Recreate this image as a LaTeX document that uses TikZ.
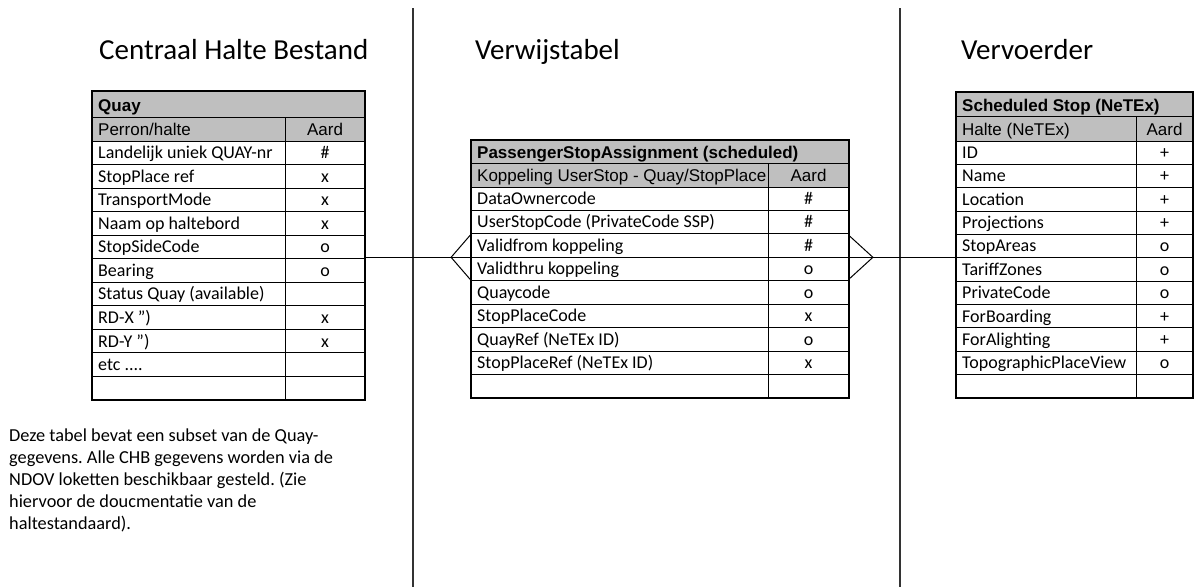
\documentclass[tikz,border=0pt]{standalone}
\usepackage{fontspec}
\setmainfont{Carlito}
\newfontfamily\arialfont{Liberation Sans}
\usetikzlibrary{calc}
\definecolor{hdrgray}{RGB}{191,191,191}
\newcommand{\myetcrow}{etc ....}
\newcommand{\mydq}{\char34}
\frenchspacing
\begin{document}
\begin{tikzpicture}[x=1pt,y=-1pt,
  frame/.style={draw, line width=1.8pt, inner sep=0pt},
  gridline/.style={line width=0.9pt},
  rowtxt/.style={inner sep=0pt, anchor=base west, font=\fontsize{18}{20}\selectfont},
  aardtxt/.style={inner sep=0pt, anchor=base, font=\fontsize{18}{20}\selectfont},
  hdrtxt/.style={inner sep=0pt, anchor=base west, font=\arialfont\bfseries\fontsize{17}{19}\selectfont},
  subtxt/.style={inner sep=0pt, anchor=base west, font=\arialfont\fontsize{17}{19}\selectfont},
  titletxt/.style={inner sep=0pt, anchor=base west, font=\fontsize{29}{32}\selectfont},
  notetxt/.style={inner sep=0pt, anchor=base west, align=left, font=\fontsize{18.3}{22}\selectfont},
  conn/.style={line width=1pt},
  sepline/.style={line width=1.3pt, draw=black!80},
]
\useasboundingbox (0,0) rectangle (1196,587);

% separators
\coordinate (s1t) at (413,8); \coordinate (s1b) at (413,587);
\coordinate (s2t) at (900,8); \coordinate (s2b) at (900,587);
\draw[sepline] (s1t) -- (s1b);
\draw[sepline] (s2t) -- (s2b);

% titles
\node[titletxt] (t1) at (99,59) {Centraal Halte Bestand};
\node[titletxt] (t2) at (475,59) {Verwijstabel};
\node[titletxt] (t3) at (961,59) {Vervoerder};

% ---------- Quay table ----------
\fill[hdrgray] (92,91) rectangle (365,141);
\foreach \y in {117,141} \draw[gridline] (92,\y) -- (365,\y);
\foreach \i in {1,...,10} \draw[gridline] (92,{141+23.545*\i}) -- (365,{141+23.545*\i});
\draw[gridline] (285,117) -- (285,400);
\node[frame, minimum width=273pt, minimum height=309pt] (quay) at (228.5,245.5) {};
\node[hdrtxt] (quay-h) at (98,111) {Quay};
\node[subtxt] (quay-s) at (98,135) {Perron/halte};
\node[subtxt, anchor=base] (quay-sa) at (325,135) {Aard};
\foreach \t/\a [count=\i] in {Landelijk uniek QUAY-nr/\#, StopPlace ref/x, TransportMode/x, Naam op haltebord/x, StopSideCode/o, Bearing/o, Status Quay (available)/{}, RD-X \mydq)/x, RD-Y \mydq)/x, \myetcrow/{}} {
  \node[rowtxt] (quay-r\i) at (98,{141+23.545*\i-5.9}) {\t};
  \node[aardtxt] (quay-a\i) at (325,{141+23.545*\i-5.9}) {\a};
}

% ---------- PassengerStopAssignment table ----------
\fill[hdrgray] (471,140) rectangle (849,187);
\foreach \y in {163,187} \draw[gridline] (471,\y) -- (849,\y);
\foreach \i in {1,...,8} \draw[gridline] (471,{187+23.444*\i}) -- (849,{187+23.444*\i});
\draw[gridline] (768,163) -- (768,398);
\node[frame, minimum width=378pt, minimum height=258pt] (psa) at (660,269) {};
\node[hdrtxt] (psa-h) at (477,158) {PassengerStopAssignment (scheduled)};
\begin{scope}
  \clip (471,163) rectangle (767,187);
  \node[subtxt] (psa-s) at (477,181) {Koppeling UserStop - Quay/StopPlace};
\end{scope}
\node[subtxt, anchor=base] (psa-sa) at (808.5,181) {Aard};
\foreach \t/\a [count=\i] in {DataOwnercode/\#, UserStopCode (PrivateCode SSP)/\#, Validfrom koppeling/\#, Validthru koppeling/o, Quaycode/o, StopPlaceCode/x, QuayRef (NeTEx ID)/o, StopPlaceRef (NeTEx ID)/x} {
  \node[rowtxt] (psa-r\i) at (477,{187+23.444*\i-5.9}) {\t};
  \node[aardtxt] (psa-a\i) at (808.5,{187+23.444*\i-5.9}) {\a};
}

% ---------- Scheduled Stop table ----------
\fill[hdrgray] (956,92) rectangle (1193,141);
\foreach \y in {116,141} \draw[gridline] (956,\y) -- (1193,\y);
\foreach \i in {1,...,10} \draw[gridline] (956,{141+23.364*\i}) -- (1193,{141+23.364*\i});
\draw[gridline] (1136,116) -- (1136,398);
\node[frame, minimum width=237pt, minimum height=306pt] (sstop) at (1074.5,245) {};
\node[hdrtxt] (sstop-h) at (962,111) {Scheduled Stop (NeTEx)};
\node[subtxt] (sstop-s) at (962,135) {Halte (NeTEx)};
\node[subtxt, anchor=base] (sstop-sa) at (1164.5,135) {Aard};
\foreach \t/\a [count=\i] in {ID/+, Name/+, Location/+, Projections/+, StopAreas/o, TariffZones/o, PrivateCode/o, ForBoarding/+, ForAlighting/+, TopographicPlaceView/o} {
  \node[rowtxt] (sstop-r\i) at (962,{141+23.364*\i-5.9}) {\t};
  \node[aardtxt] (sstop-a\i) at (1164.5,{141+23.364*\i-5.9}) {\a};
}

% ---------- connectors ----------
\coordinate (lnk) at (660,257.3);
\draw[conn] (quay.east |- lnk) -- (psa.west |- lnk);
\draw[conn] ($(psa.west |- lnk)+(0,-22)$) -- ($(psa.west |- lnk)+(-19,0)$) -- ($(psa.west |- lnk)+(0,22)$);
\draw[conn] (psa.east |- lnk) -- (sstop.west |- lnk);
\draw[conn] ($(psa.east |- lnk)+(0,-21)$) -- ($(psa.east |- lnk)+(23,0)$) -- ($(psa.east |- lnk)+(0,21)$);

% note
\node[notetxt] (note) at (9,529) {Deze tabel bevat een subset van de Quay-\\gegevens. Alle CHB gegevens worden via de\\NDOV loketten beschikbaar gesteld. (Zie\\hiervoor de doucmentatie van de\\haltestandaard).};
\end{tikzpicture}
\end{document}
